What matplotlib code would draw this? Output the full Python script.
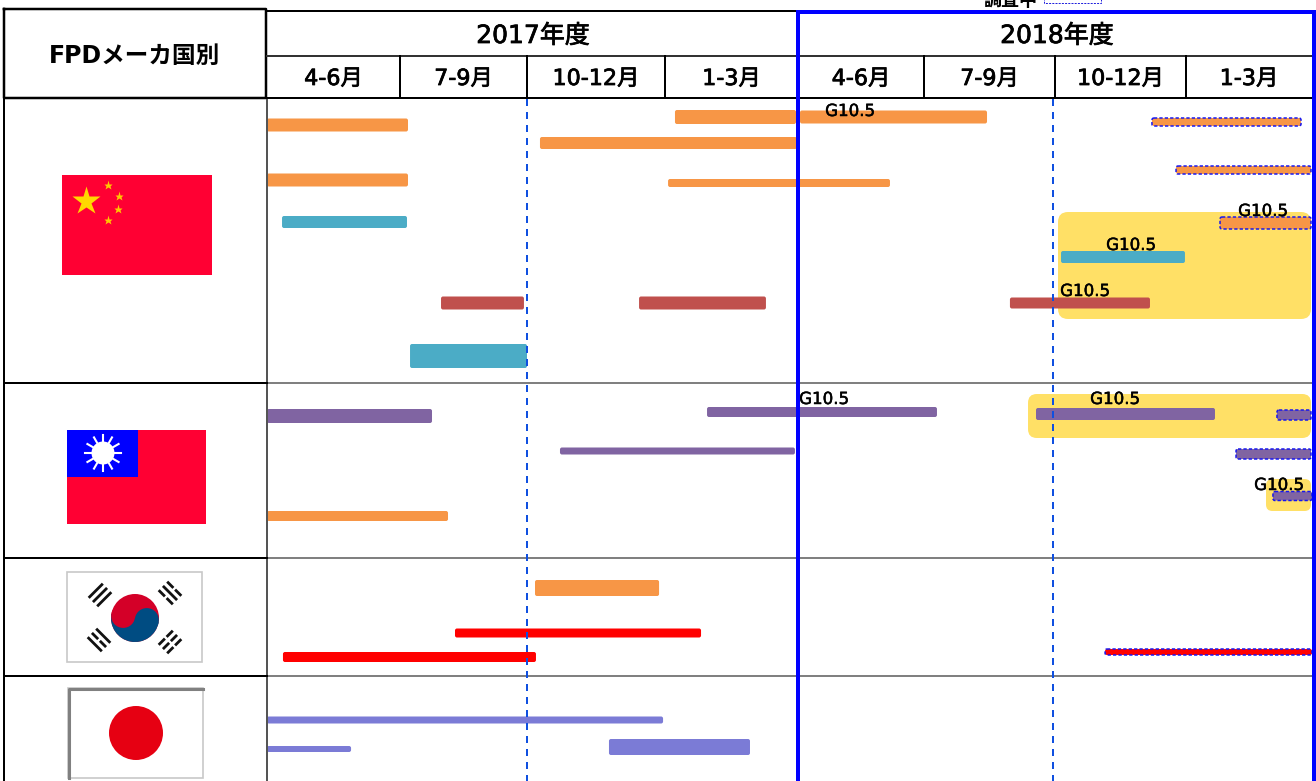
import matplotlib
matplotlib.use('Agg')
import matplotlib.pyplot as plt
import matplotlib.patches as mpatches
import matplotlib.patheffects as pe
import numpy as np

plt.rcParams['font.family'] = ['DejaVu Sans', 'Noto Sans CJK JP']

# header text
title_left = 'FPDメーカ国別'
years = ['2017年度', '2018年度']
quarters = ['4-6月', '7-9月', '10-12月', '1-3月', '4-6月', '7-9月', '10-12月', '1-3月']
status_label = '調査中'
g_label = 'G10.5'

# bars: start / end in fiscal quarters counted from 2017 4月
bar_start = [0, 3.075, 4.016, 2.094, 0, 3.023, 0.113, 1.323, 2.812, 1.079, 5.656, 6.046,
             0, 3.316, 2.239, 0, 5.855,
             2.058, 1.433, 0.120,
             0, 0, 2.594]
bar_end = [1.063, 3.985, 5.481, 3.992, 1.063, 4.730, 1.055, 1.976, 3.759, 2.0, 6.725, 6.992,
           1.252, 5.099, 3.977, 1.378, 7.230,
           2.957, 3.271, 2.065,
           2.986, 0.632, 3.639]
bar_kind = ['orange', 'orange', 'orange', 'orange', 'orange', 'orange', 'teal', 'brick', 'brick', 'teal', 'brick', 'teal',
            'purple', 'purple', 'purple', 'orange', 'purple',
            'orange', 'red', 'red',
            'slate', 'slate', 'slate']

# bars still under survey (dashed outline)
survey_start = [6.740, 6.924, 7.270, 7.722, 7.397, 7.690, 6.382]
survey_end = [7.913, 7.992, 7.992, 7.992, 7.992, 8.0, 8.0]
survey_kind = ['orange', 'orange', 'orange', 'purple', 'purple', 'purple', 'red']

# G10.5 highlight areas
glow_start = [6.023, 5.794, 7.635]
glow_end = [7.992, 7.992, 7.992]

# placement on the picture
quarter_edges = [267, 400, 527, 665, 798, 924, 1055, 1186, 1312]
bar_y = [125, 117, 117, 143, 180, 183, 222, 303, 303, 356, 303, 257,
         416, 412, 451, 516, 414,
         588, 633, 657,
         720, 749, 747]
bar_h = [13, 14, 13, 12, 13, 8, 12, 13, 13, 24, 11, 12,
         14, 10, 7, 10, 12,
         16, 9, 10,
         7, 6, 16]
survey_y = [122, 170, 223, 415, 454, 496, 652]
survey_h = [8, 8, 12, 10, 10, 9, 6]
glow_top = [212, 394, 479]
glow_bottom = [319, 438, 511]
label_x = [850, 1263, 1131, 1085, 824, 1115, 1279]
label_y = [111, 211, 245, 291, 399, 399, 485]
colors = {'orange': '#F79646', 'teal': '#4BACC6', 'brick': '#C0504D', 'purple': '#8064A2',
          'red': '#FF0000', 'slate': '#7B7BD6'}


def fx(q):
    return np.interp(q, np.arange(len(quarter_edges)), quarter_edges)


def rbar(ax, x0, x1, y, h, color, z=3, round_px=2.0, **kw):
    r = min(round_px, h / 2.5)
    p = mpatches.FancyBboxPatch((x0 + r, y - h / 2 + r), x1 - x0 - 2 * r, h - 2 * r,
                                boxstyle='round,pad=%f,rounding_size=%f' % (r, r),
                                facecolor=color, zorder=z, **kw)
    ax.add_patch(p)


fig = plt.figure(figsize=(13.16, 7.81), dpi=100)
ax = fig.add_axes([0, 0, 1, 1])
ax.set_xlim(0, 1316)
ax.set_ylim(781, 0)
ax.axis('off')

px = 0.72  # one pixel in points
thick = [pe.withStroke(linewidth=0.55, foreground='k')]

# grid
ax.plot([4, 266, 266, 4, 4], [9, 9, 98, 98, 9], color='k', lw=2.5 * px, zorder=5)
ax.plot([4, 4], [98, 781], color='k', lw=2 * px, zorder=5)
ax.plot([267, 267], [98, 781], color='#555555', lw=2 * px, zorder=5)
ax.plot([267, 1312], [11, 11], color='k', lw=2 * px, zorder=5)
ax.plot([267, 1312], [56, 56], color='#333333', lw=2 * px, zorder=5)
ax.plot([267, 1312], [98, 98], color='k', lw=2 * px, zorder=5)
for e in quarter_edges[1:-1]:
    ax.plot([e, e], [56, 98], color='k', lw=2 * px, zorder=5)
for y in [383, 558, 676]:
    ax.plot([4, 267], [y, y], color='k', lw=2 * px, zorder=5)
    ax.plot([268, 1312], [y, y], color='#808080', lw=2 * px, zorder=1)

# header text
ax.text(134.5, 56, title_left, ha='center', va='center', fontsize=17, fontweight='bold', color='k')
for x, yr in zip([533, 1057], years):
    ax.text(x, 36, yr, ha='center', va='center', fontsize=18, color='k', path_effects=thick)
for i, q in enumerate(quarters):
    ax.text((quarter_edges[i] + quarter_edges[i + 1]) / 2, 79, q, ha='center', va='center',
            fontsize=16, color='k', path_effects=thick)
ax.text(1010, 1, status_label, ha='center', va='center', fontsize=13, fontweight='bold', color='k')
ax.add_patch(mpatches.Rectangle((1044, -4), 57, 6.5, fill=False, ec='#2222DD', ls=(0, (2, 1.2)), lw=1 * px))

# highlight areas
for s, e, t, b in zip(glow_start, glow_end, glow_top, glow_bottom):
    h = b - t
    rbar(ax, fx(s), fx(e), (t + b) / 2, h, '#FFE066', z=1.5, round_px=min(10, h / 5), lw=0)

# solid bars
for s, e, y, h, k in zip(bar_start, bar_end, bar_y, bar_h, bar_kind):
    rbar(ax, fx(s), fx(e), y, h, colors[k], lw=0)

# dashed bars
for s, e, y, h, k in zip(survey_start, survey_end, survey_y, survey_h, survey_kind):
    rbar(ax, fx(s), fx(e), y, h, colors[k], lw=1.5 * px, edgecolor='#1515F0', linestyle=(0, (2.2, 1.4)))

for x, y in zip(label_x, label_y):
    ax.text(x, y, g_label, ha='center', va='center', fontsize=12, color='k', zorder=6,
            path_effects=[pe.withStroke(linewidth=0.35, foreground='k')])

# blue 2018 frame and dashed verticals
ax.plot([798, 798, 1314, 1314], [781, 12, 12, 781], color='#0000FF', lw=4 * px, zorder=7,
        solid_joinstyle='miter')
for x in [527, 1053]:
    ax.plot([x, x], [99, 781], color='#1050E0', lw=2 * px, ls=(0, (3.5, 3.0)), zorder=6)

# China flag
ax.add_patch(mpatches.Rectangle((62, 175), 150, 100, fc='#FF0033', ec='none'))
ax.plot([86], [201], marker='*', ms=21, color='#FFD800', mec='none', zorder=3)
for x, y in [(108, 185), (119, 196), (118, 209), (108, 220)]:
    ax.plot([x], [y], marker='*', ms=6.5, color='#FFC800', mec='none', zorder=3)

# Taiwan flag
ax.add_patch(mpatches.Rectangle((67, 430), 139, 94, fc='#FF0033', ec='none'))
ax.add_patch(mpatches.Rectangle((67, 430), 71, 47, fc='#0000FF', ec='none', zorder=2))
for a in np.arange(0, 360, 30):
    ax.plot([103, 103 + 18 * np.cos(np.radians(a))], [453, 453 + 18 * np.sin(np.radians(a))],
            color='white', lw=1.5, zorder=3)
ax.add_patch(mpatches.Circle((103, 453), 11.5, fc='white', ec='none', zorder=4))

# Korea flag
ax.add_patch(mpatches.Rectangle((67, 572), 135, 90, fc='white', ec='#C8C8C8', lw=1.2))
kx, ky, kr = 135, 618, 24
ax.add_patch(mpatches.Circle((kx, ky), kr, fc='#D40028', ec='none', zorder=2))
ax.add_patch(mpatches.Wedge((kx, ky), kr, 10, 190, fc='#004C82', ec='none', zorder=3))
ox, oy = 12 * np.cos(np.radians(10)), 12 * np.sin(np.radians(10))
ax.add_patch(mpatches.Circle((kx - ox, ky - oy), 12, fc='#D40028', ec='none', zorder=4))
ax.add_patch(mpatches.Circle((kx + ox, ky + oy), 12, fc='#004C82', ec='none', zorder=4))
trigrams = [(100, 595, 45, [0, 0, 0]), (170, 593, -45, [1, 0, 1]),
            (99, 640, -45, [0, 1, 0]), (170, 642, 45, [1, 1, 1])]
for cx, cy, a, broken in trigrams:
    ca, sa = np.cos(np.radians(a)), np.sin(np.radians(a))
    for d, br in zip([-6, 0, 6], broken):
        nx, ny = d * sa, d * ca
        parts = [(-10, -1.2), (1.2, 10)] if br else [(-10, 10)]
        for t0, t1 in parts:
            ax.plot([cx + t0 * ca + nx, cx + t1 * ca + nx], [cy - t0 * sa + ny, cy - t1 * sa + ny],
                    color='#111111', lw=2.0, zorder=3, solid_capstyle='butt')

# Japan flag
ax.add_patch(mpatches.Rectangle((68, 688), 135, 90, fc='white', ec='#C8C8C8', lw=1.2))
ax.plot([69, 69, 203], [778, 689, 689], color='#808080', lw=2.2, zorder=3)
ax.add_patch(mpatches.Circle((136, 733), 27, fc='#E60012', ec='none', zorder=3))

fig.savefig('out.png', dpi=100)
